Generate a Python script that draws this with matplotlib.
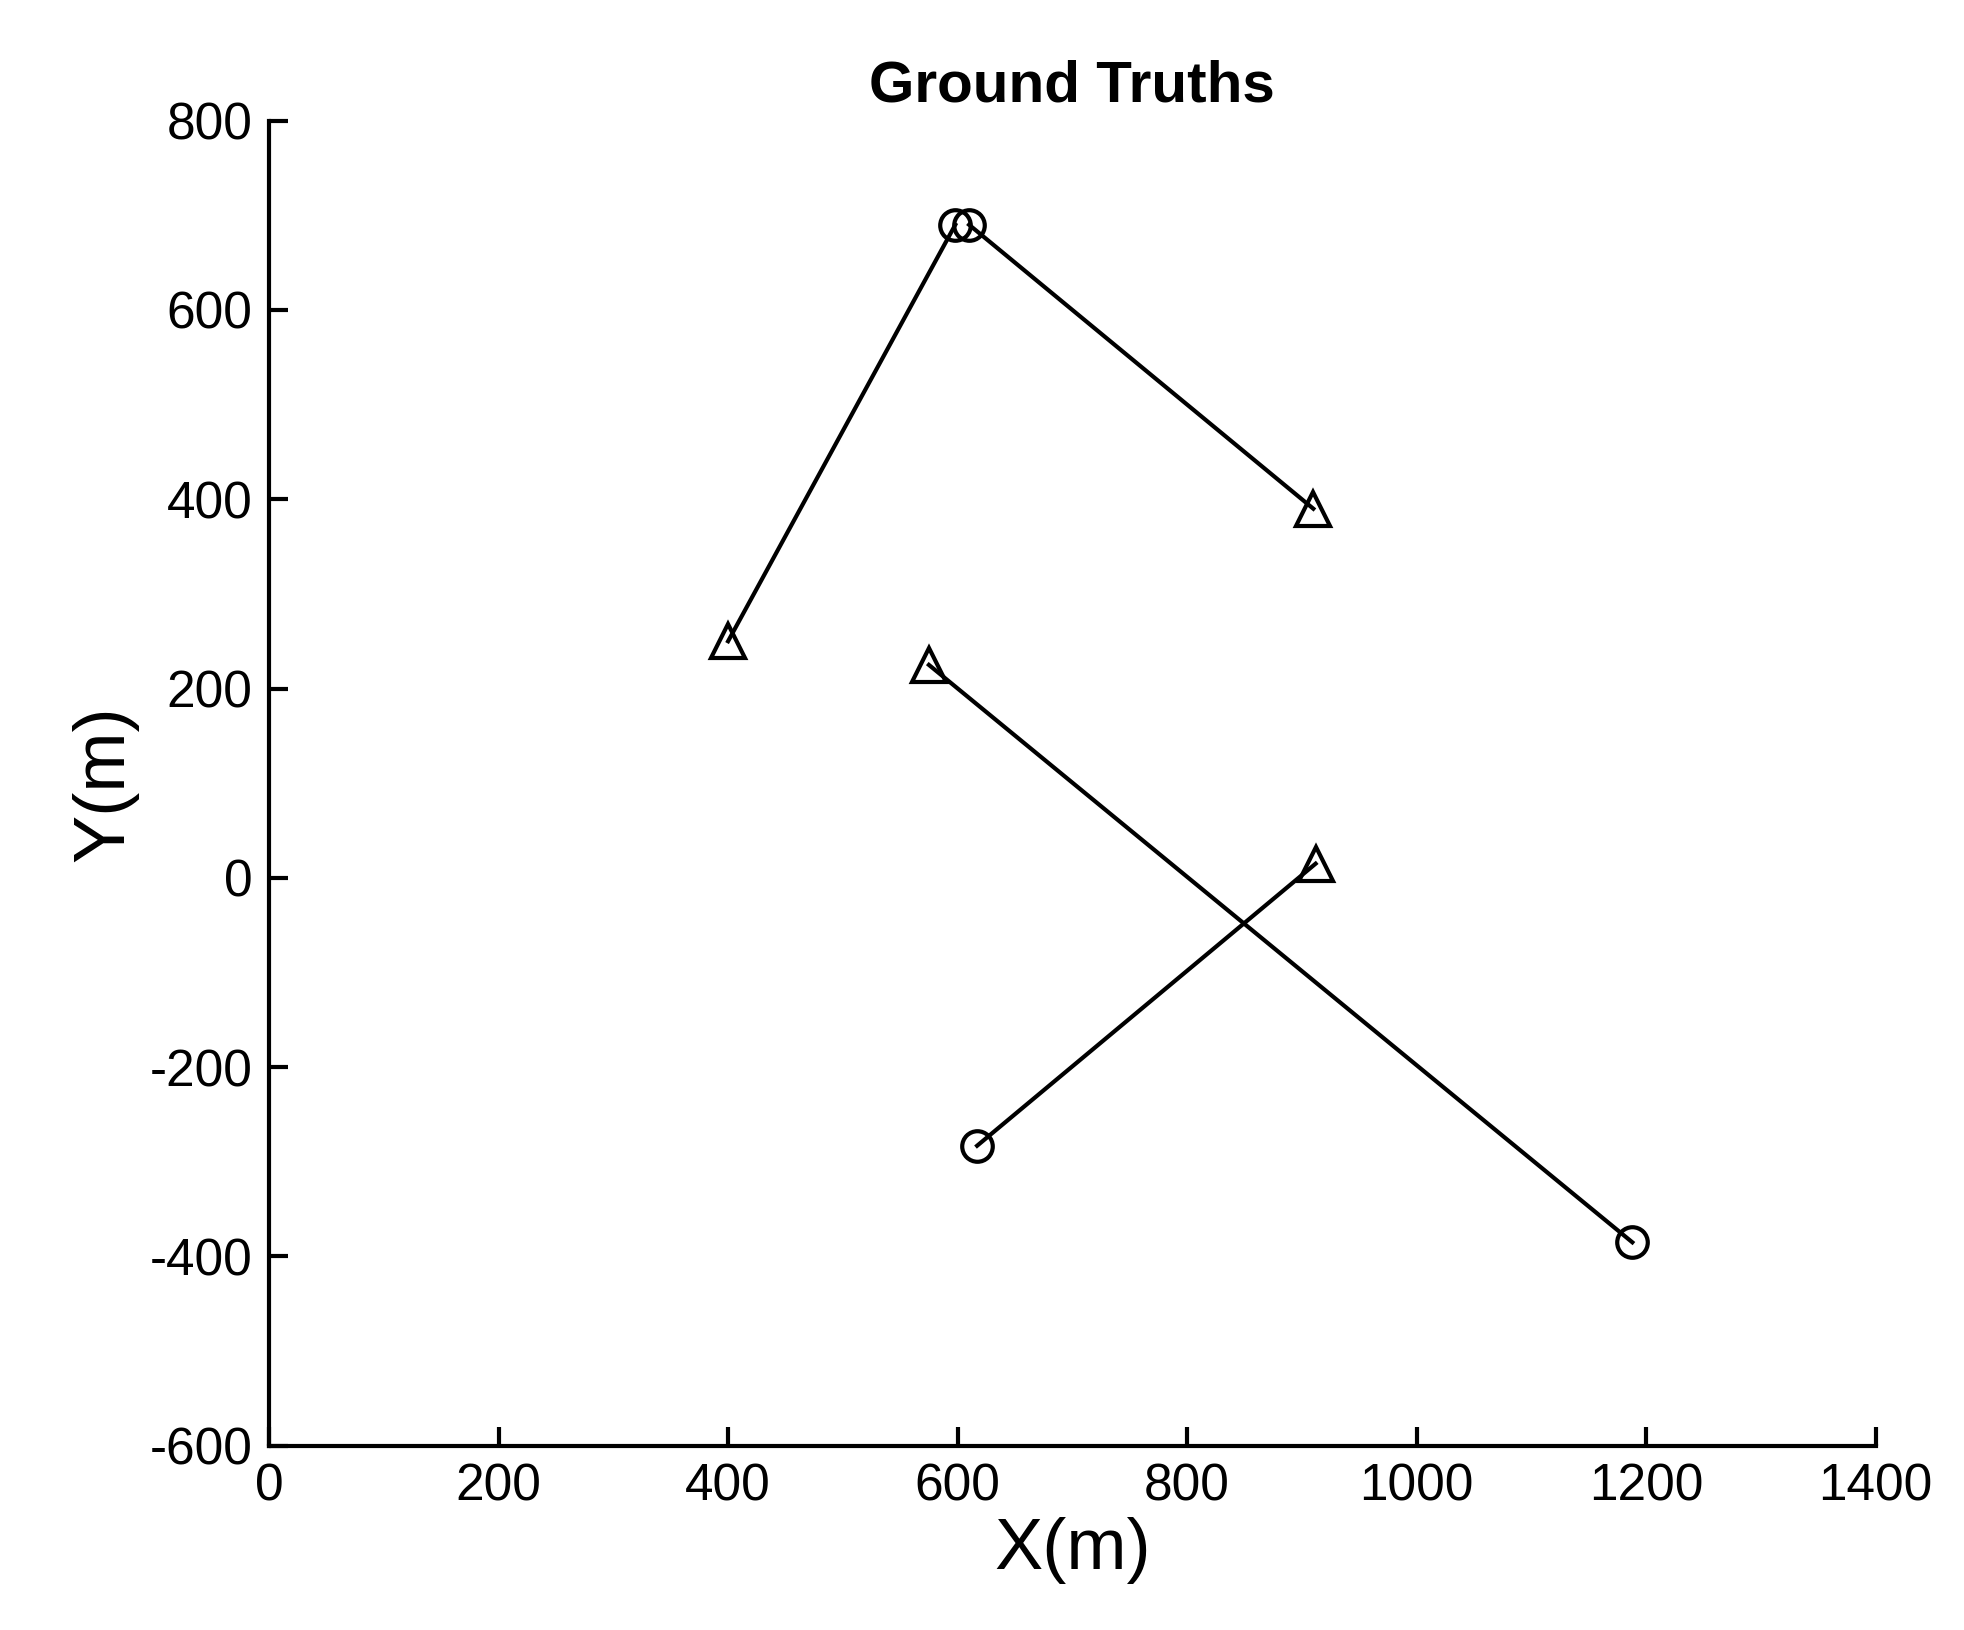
import matplotlib
matplotlib.use("Agg")
import matplotlib.pyplot as plt

track_x = [[400, 598], [910, 610], [575, 1188], [912, 617]]
track_y = [[250, 690], [390, 690], [225, -385], [15, -283]]

plt.rcParams['font.family'] = ['Liberation Sans', 'DejaVu Sans']
plt.rcParams['axes.unicode_minus'] = False
fig = plt.figure(figsize=(19.64, 16.30), dpi=100)
ax = fig.add_axes([0.137, 0.113, 0.818, 0.813])
for xs, ys in zip(track_x, track_y):
    ax.plot(xs, ys, color='black', lw=3)
    ax.plot(xs[0], ys[0], marker='^', ms=24, mfc='none', mec='black', mew=3)
    ax.plot(xs[1], ys[1], marker='o', ms=22, mfc='none', mec='black', mew=3)
ax.set_xlim(0, 1400)
ax.set_ylim(-600, 800)
ax.set_xticks(range(0, 1401, 200))
ax.set_yticks(range(-600, 801, 200))
for s in ['top', 'right']:
    ax.spines[s].set_visible(False)
for s in ['left', 'bottom']:
    ax.spines[s].set_linewidth(3)
ax.tick_params(direction='in', length=14, width=3, labelsize=37, pad=12)
ax.set_xlabel('X(m)', fontsize=52, labelpad=4)
ax.set_ylabel('Y(m)', fontsize=52, labelpad=8)
ax.set_title('Ground Truths', fontsize=42, fontweight='bold', pad=14)
fig.savefig('out.png', dpi=100, facecolor='white')
